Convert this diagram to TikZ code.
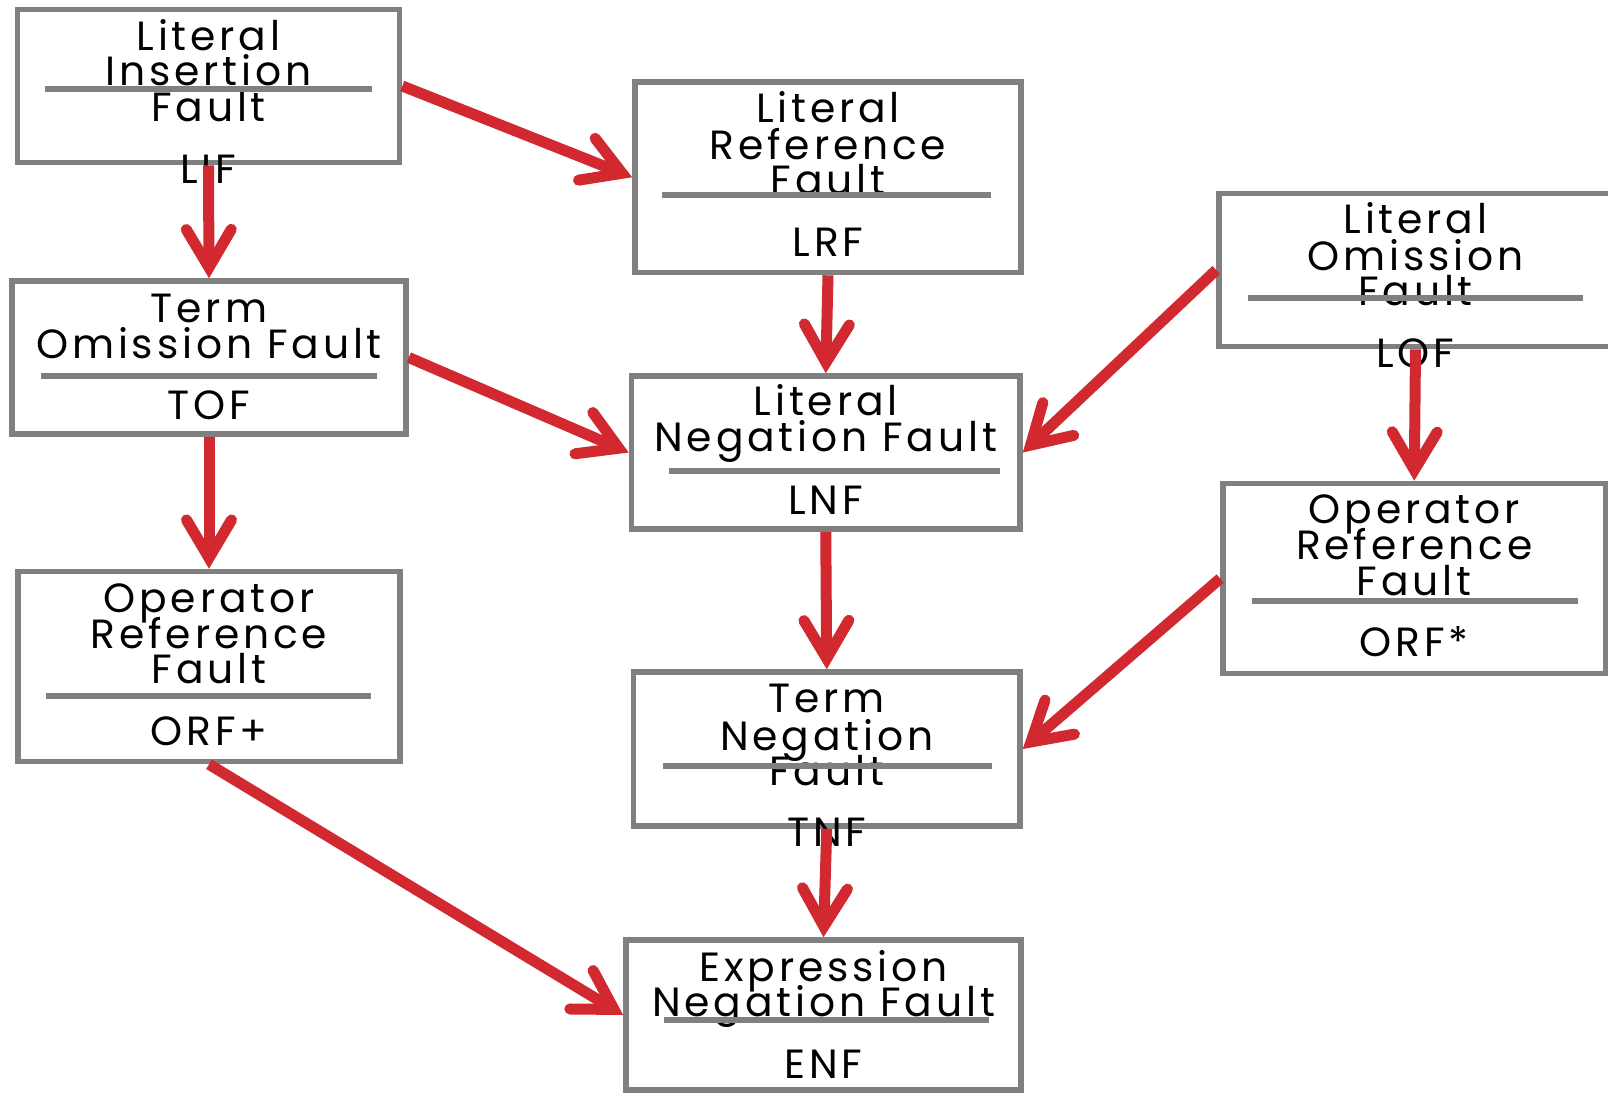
\documentclass[tikz,border=0pt]{standalone}
\usepackage{fontspec}
\setmainfont{Poppins}[LetterSpace=9.5]
\usetikzlibrary{arrows.meta}
\definecolor{boxgray}{RGB}{128,128,128}
\definecolor{arrowred}{RGB}{209,41,47}

\tikzset{
  box/.style 2 args={draw=boxgray, line width=2.8pt, rectangle, inner sep=0pt,
    minimum width=#1*0.5pt, minimum height=#2*0.5pt},
  label/.style={anchor=base, inner sep=0pt, font=\fontsize{20.4pt}{24pt}\selectfont},
  divider/.style={draw=boxgray, line width=2.8pt},
  flow/.style={draw=arrowred, line width=5.5pt,
    -{Straight Barb[length=19pt, width=22.5pt, line cap=round, line join=miter]}}
}

\begin{document}
\begin{tikzpicture}[x=0.5pt, y=-0.5pt]
\useasboundingbox (0,0) rectangle (1608,1093);
\fill[white] (0,0) rectangle (1608,1093);
\clip (0,0) rectangle (1608,1093);

% fault boxes
\node[box={382}{153}]   (lif)  at (208.5,86)     {};
\node[box={386}{190.5}] (lrf)  at (828,177.25)   {};
\node[box={394}{153}]   (tof)  at (209,357.5)    {};
\node[box={388.5}{153}] (lnf)  at (825.75,452.5) {};
\node[box={382}{190}]   (orfp) at (209,666.5)    {};
\node[box={386.5}{154}] (tnf)  at (826.75,749)   {};
\node[box={395}{150}]   (enf)  at (823.5,1015)   {};
\node[box={393}{153}]   (lof)  at (1415.5,270)   {};
\node[box={382.5}{190}] (orfs) at (1414.25,578.5) {};

% names and abbreviations
\node[label] (lif-a) at (208.5,50)  {Literal};
\node[label] (lif-b) at (208.5,85)  {Insertion};
\node[label] (lif-c) at (208.5,121) {Fault};
\node[label] (lif-d) at (208.5,183) {LIF};

\node[label] (lrf-a) at (828,122.7) {Literal};
\node[label] (lrf-b) at (828,159)   {Reference};
\node[label] (lrf-c) at (828,194)   {Fault};
\node[label] (lrf-d) at (828,256.7) {LRF};

\node[label] (tof-a) at (209,322.7) {Term};
\node[label] (tof-b) at (209,358.3) {Omission Fault};
\node[label] (tof-d) at (209,419)   {TOF};

\node[label] (lnf-a) at (825.75,415.7) {Literal};
\node[label] (lnf-b) at (825.75,451.7) {Negation Fault};
\node[label] (lnf-d) at (825.75,514)   {LNF};

\node[label] (orfp-a) at (209,612.3) {Operator};
\node[label] (orfp-b) at (209,648.3) {Reference};
\node[label] (orfp-c) at (209,683.3) {Fault};
\node[label] (orfp-d) at (209,745)   {ORF+};

\node[label] (tnf-a) at (826.75,712.7) {Term};
\node[label] (tnf-b) at (826.75,750)   {Negation};
\node[label] (tnf-c) at (826.75,785)   {Fault};
\node[label] (tnf-d) at (826.75,846.7) {TNF};

\node[label] (enf-a) at (823.5,981.7)  {Expression};
\node[label] (enf-b) at (823.5,1016.7) {Negation Fault};
\node[label] (enf-d) at (823.5,1078.3) {ENF};

\node[label] (lof-a) at (1415.5,233.3) {Literal};
\node[label] (lof-b) at (1415.5,270)   {Omission};
\node[label] (lof-c) at (1415.5,305)   {Fault};
\node[label] (lof-d) at (1415.5,367.3) {LOF};

\node[label] (orfs-a) at (1414.25,523.3) {Operator};
\node[label] (orfs-b) at (1414.25,559.3) {Reference};
\node[label] (orfs-c) at (1414.25,595)   {Fault};
\node[label] (orfs-d) at (1414.25,656.7) {ORF*};

% divider rules between name and abbreviation
\draw[divider] (45,89)       -- (372,89);
\draw[divider] (661.7,195)   -- (990.7,195);
\draw[divider] (41,375.7)    -- (376.7,375.7);
\draw[divider] (669.3,471)   -- (1000,471);
\draw[divider] (45.7,695.7)  -- (370.7,695.7);
\draw[divider] (663.3,765.7) -- (992.3,765.7);
\draw[divider] (664,1020)    -- (989,1020);
\draw[divider] (1247.7,297.7) -- (1582.7,297.7);
\draw[divider] (1251.7,600.7) -- (1578.3,600.7);

% connectors
\draw[flow] (lif.south)  -- (tof.north);
\draw[flow] (lif.east)   -- (lrf.west);
\draw[flow] (tof.east)   -- (lnf.west);
\draw[flow] (lrf.south)  -- (lnf.north);
\draw[flow] (lnf.south)  -- (tnf.north);
\draw[flow] (tnf.south)  -- (enf.north);
\draw[flow] (tof.south)  -- (orfp.north);
\draw[flow] (orfp.south) -- (enf.west);
\draw[flow] (lof.west)   -- (lnf.east);
\draw[flow] (orfs.west)  -- (tnf.east);
\draw[flow] (lof.south)  -- (orfs.north);
\end{tikzpicture}
\end{document}
